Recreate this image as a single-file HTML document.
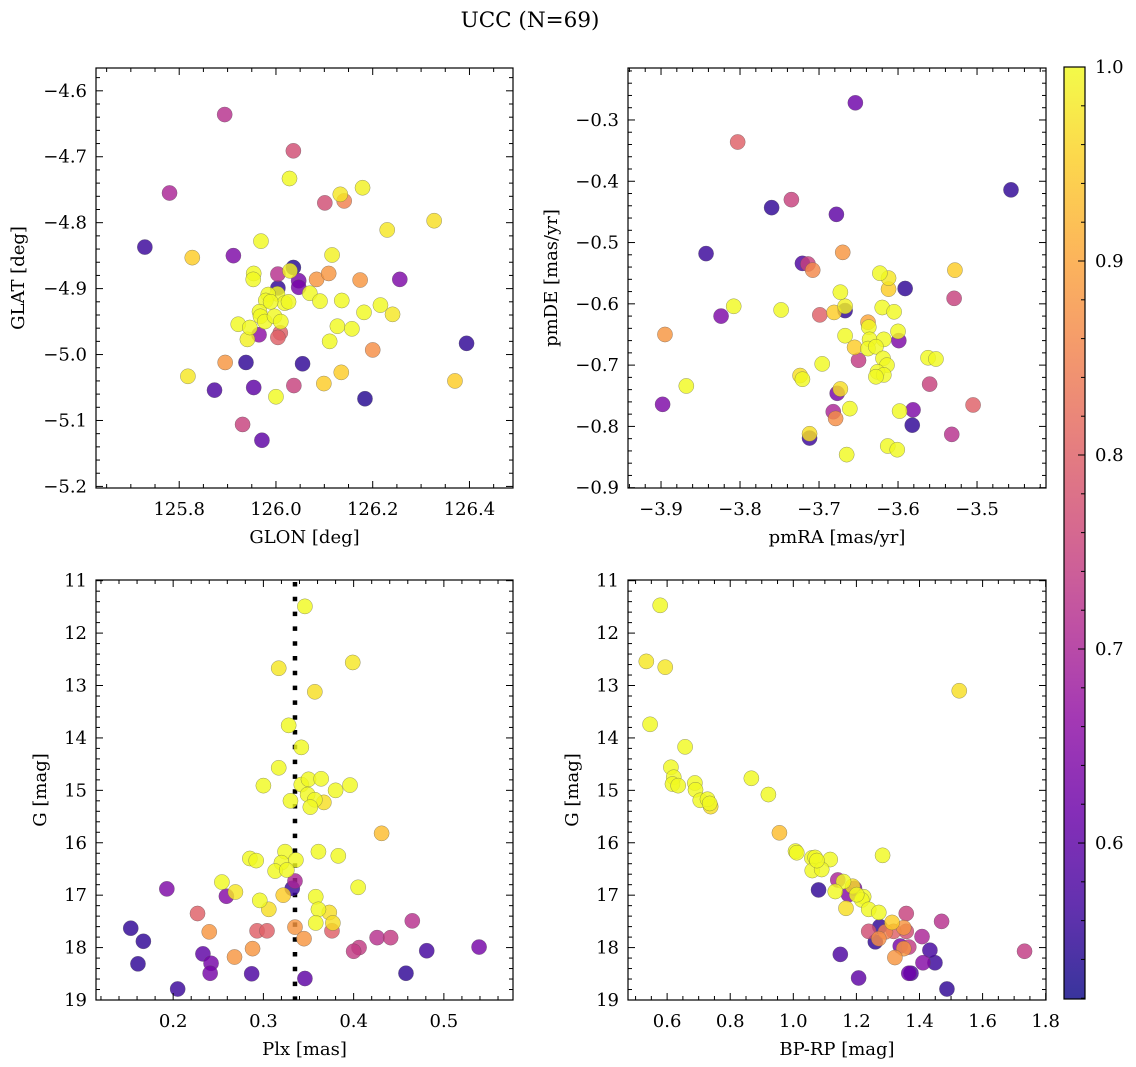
<!DOCTYPE html>
<html><head><meta charset="utf-8">
<style>
html,body{margin:0;padding:0;background:#fff;}
svg{display:block;font-family:"DejaVu Serif","Liberation Serif",serif;}
</style></head>
<body>
<svg id="fig" width="1136" height="1067" viewBox="0 0 1136 1067" xmlns="http://www.w3.org/2000/svg">
<text x="530" y="27" font-size="21.5" text-anchor="middle">UCC (N=69)</text>
</svg>
<script>
// ---- Panel 1: GLON vs GLAT ----
const p1GLON=[125.894,126.036,126.028,125.780,126.133,126.141,126.101,126.179,126.327,126.230,125.729,125.827,125.912,125.969,126.116,126.036,126.029,126.004,126.047,126.047,126.004,125.954,125.953,126.084,126.109,126.174,126.256,126.070,126.091,126.136,126.003,125.984,125.979,126.018,126.026,125.966,125.968,125.977,125.997,126.010,125.922,125.946,125.941,125.965,126.009,126.004,126.182,126.216,126.241,126.127,126.157,126.111,126.200,126.394,125.895,125.938,126.055,125.818,126.135,126.099,126.370,125.873,125.954,126.037,126.000,126.184,125.931,125.971,125.989];
const p1GLAT=[-4.636,-4.691,-4.733,-4.755,-4.757,-4.767,-4.770,-4.747,-4.797,-4.811,-4.837,-4.853,-4.850,-4.828,-4.849,-4.868,-4.873,-4.878,-4.888,-4.898,-4.899,-4.877,-4.886,-4.886,-4.877,-4.887,-4.886,-4.907,-4.919,-4.918,-4.908,-4.909,-4.918,-4.922,-4.920,-4.935,-4.942,-4.950,-4.942,-4.950,-4.954,-4.959,-4.977,-4.970,-4.967,-4.974,-4.936,-4.925,-4.939,-4.957,-4.961,-4.980,-4.993,-4.983,-5.012,-5.012,-5.014,-5.033,-5.027,-5.044,-5.040,-5.054,-5.050,-5.047,-5.064,-5.067,-5.106,-5.130,-4.920];
const p1Prob=[0.72,0.77,1.0,0.70,0.98,0.85,0.77,0.99,0.97,0.98,0.56,0.95,0.64,1.0,0.99,0.54,0.99,0.72,0.63,0.63,0.55,1.0,1.0,0.88,0.88,0.88,0.64,1.0,1.0,1.0,1.0,1.0,1.0,1.0,1.0,1.0,1.0,1.0,1.0,1.0,1.0,1.0,0.99,0.66,0.80,0.80,1.0,1.0,0.98,1.0,1.0,1.0,0.87,0.55,0.88,0.55,0.55,0.98,0.95,0.95,0.95,0.58,0.60,0.75,1.0,0.54,0.75,0.60,1.0];
// ---- Panel 2: pmRA vs pmDE ----
const p2PmRA=[-3.654,-3.803,-3.457,-3.735,-3.760,-3.678,-3.843,-3.670,-3.721,-3.714,-3.708,-3.623,-3.612,-3.528,-3.612,-3.591,-3.673,-3.529,-3.808,-3.824,-3.748,-3.667,-3.667,-3.681,-3.699,-3.620,-3.605,-3.895,-3.638,-3.637,-3.667,-3.636,-3.600,-3.599,-3.618,-3.655,-3.638,-3.628,-3.650,-3.562,-3.552,-3.619,-3.614,-3.626,-3.618,-3.628,-3.696,-3.724,-3.721,-3.868,-3.560,-3.673,-3.677,-3.898,-3.505,-3.661,-3.682,-3.679,-3.598,-3.581,-3.582,-3.712,-3.712,-3.532,-3.613,-3.601,-3.665];
const p2PmDE=[-0.272,-0.336,-0.414,-0.430,-0.443,-0.454,-0.518,-0.516,-0.534,-0.535,-0.545,-0.550,-0.558,-0.545,-0.576,-0.575,-0.581,-0.591,-0.604,-0.620,-0.610,-0.611,-0.604,-0.614,-0.618,-0.606,-0.613,-0.650,-0.630,-0.638,-0.652,-0.658,-0.645,-0.660,-0.658,-0.671,-0.673,-0.670,-0.692,-0.688,-0.690,-0.689,-0.700,-0.711,-0.716,-0.719,-0.698,-0.717,-0.723,-0.734,-0.731,-0.739,-0.746,-0.764,-0.765,-0.771,-0.776,-0.787,-0.775,-0.773,-0.798,-0.819,-0.812,-0.813,-0.832,-0.838,-0.846];
const p2Prob=[0.62,0.80,0.55,0.75,0.55,0.60,0.56,0.88,0.58,0.75,0.86,1.0,0.98,0.95,0.95,0.55,1.0,0.75,1.0,0.64,1.0,0.55,0.99,0.95,0.80,1.0,1.0,0.88,0.90,1.0,1.0,1.0,1.0,0.64,1.0,0.95,1.0,1.0,0.74,1.0,1.0,1.0,1.0,1.0,1.0,1.0,1.0,0.97,1.0,1.0,0.75,0.97,0.63,0.64,0.80,1.0,0.70,0.87,1.0,0.64,0.55,0.56,0.97,0.72,1.0,1.0,1.0];
// ---- Panel 3: Plx vs G ----
const p3Plx=[0.346,0.399,0.317,0.357,0.328,0.342,0.317,0.300,0.342,0.350,0.364,0.396,0.380,0.330,0.349,0.357,0.367,0.352,0.431,0.324,0.361,0.383,0.285,0.292,0.336,0.320,0.313,0.326,0.335,0.332,0.254,0.405,0.193,0.269,0.259,0.322,0.358,0.296,0.306,0.361,0.373,0.227,0.465,0.358,0.377,0.335,0.153,0.240,0.293,0.304,0.376,0.426,0.441,0.345,0.167,0.288,0.406,0.400,0.539,0.481,0.233,0.268,0.242,0.161,0.241,0.287,0.458,0.346,0.205];
const p3G=[11.49,12.56,12.67,13.12,13.76,14.18,14.57,14.91,14.89,14.79,14.78,14.90,15.00,15.20,15.08,15.18,15.23,15.32,15.82,16.17,16.17,16.25,16.30,16.34,16.33,16.38,16.54,16.52,16.73,16.87,16.75,16.85,16.88,16.94,17.02,17.00,17.03,17.10,17.27,17.27,17.33,17.35,17.49,17.53,17.53,17.61,17.63,17.70,17.68,17.68,17.68,17.81,17.81,17.83,17.88,18.02,18.00,18.07,17.99,18.06,18.12,18.18,18.30,18.31,18.49,18.50,18.49,18.59,18.79];
const p3Prob=[1.0,0.98,0.98,0.97,1.0,1.0,1.0,1.0,1.0,1.0,1.0,1.0,1.0,1.0,1.0,1.0,0.97,1.0,0.93,1.0,1.0,1.0,1.0,1.0,1.0,1.0,1.0,1.0,0.70,0.56,1.0,1.0,0.64,0.98,0.65,0.95,1.0,1.0,0.97,1.0,0.97,0.80,0.72,1.0,0.97,0.88,0.55,0.88,0.80,0.80,0.80,0.72,0.74,0.88,0.55,0.88,0.74,0.74,0.63,0.57,0.60,0.88,0.63,0.55,0.63,0.58,0.55,0.60,0.56];
const p3PlxMedian=[0.335];
// ---- Panel 4: BP-RP vs G ----
const p4BPRP=[0.578,0.534,0.594,1.526,0.546,0.657,0.612,0.621,0.617,0.635,0.688,0.690,0.705,0.728,0.735,0.738,0.867,0.921,0.956,1.007,1.011,1.059,1.069,1.117,1.283,1.060,1.090,1.080,1.141,1.159,1.133,1.188,1.194,1.175,1.223,1.217,1.167,1.239,1.271,1.358,1.313,1.470,1.274,1.239,1.292,1.318,1.350,1.358,1.271,1.260,1.408,1.339,1.366,1.350,1.433,1.733,1.149,1.322,1.411,1.449,1.366,1.373,1.207,1.487,1.075,1.201];
const p4G=[11.47,12.54,12.65,13.10,13.74,14.17,14.56,14.75,14.88,14.91,14.86,14.99,15.19,15.17,15.25,15.31,14.77,15.08,15.81,16.16,16.19,16.29,16.28,16.32,16.24,16.53,16.51,16.90,16.71,16.74,16.93,16.83,16.87,16.99,17.03,17.09,17.25,17.27,17.33,17.35,17.52,17.50,17.60,17.69,17.70,17.69,17.62,17.69,17.83,17.89,17.79,17.97,17.99,18.02,18.05,18.07,18.13,18.19,18.29,18.29,18.49,18.49,18.58,18.79,16.34,16.99];
const p4Prob=[1.0,0.98,0.98,0.97,1.0,1.0,1.0,1.0,1.0,1.0,1.0,1.0,1.0,1.0,1.0,0.97,1.0,1.0,0.93,1.0,1.0,1.0,1.0,1.0,1.0,1.0,1.0,0.55,0.70,1.0,1.0,0.97,0.64,0.65,1.0,1.0,0.97,1.0,1.0,0.75,0.95,0.72,0.55,0.77,0.85,0.80,0.88,0.77,0.87,0.55,0.70,0.63,0.74,0.88,0.57,0.74,0.58,0.88,0.65,0.56,0.62,0.58,0.60,0.55,1.0,1.0];
// ---- Colorbar ----
const cbTicks=[0.6,0.7,0.8,0.9,1.0];
const cbRange=[0.5196,1.0];

const NS="http://www.w3.org/2000/svg";
const svg=document.getElementById('fig');
const FS=18;
function mk(tag,attrs,parent){const e=document.createElementNS(NS,tag);for(const k in attrs)e.setAttribute(k,attrs[k]);(parent||svg).appendChild(e);return e;}
const plasma=["#0d0887","#41049d","#6a00a8","#8f0da4","#b12a90","#cc4778","#e16462","#f2844b","#fca636","#fcce25","#f0f921"];
function hex(h){return [parseInt(h.substr(1,2),16),parseInt(h.substr(3,2),16),parseInt(h.substr(5,2),16)];}
function cmap(v){let t=(v-cbRange[0])/(cbRange[1]-cbRange[0]);t=Math.max(0,Math.min(1,t));const s=t*10;const i=Math.min(9,Math.floor(s));const f=s-i;const a=hex(plasma[i]),b=hex(plasma[i+1]);return 'rgb('+a.map((c,k)=>Math.round(c+(b[k]-c)*f)).join(',')+')';}
function fmt(v,d){let s=v.toFixed(d);if(v<0)s='\u2212'+s.substr(1);return s;}

function panel(cfg){
  const {name,px0,px1,py0,py1,xr,yr,invertY}=cfg;
  const sx=v=>px0+(v-xr[0])/(xr[1]-xr[0])*(px1-px0);
  const sy=invertY?(v=>py0+(v-yr[0])/(yr[1]-yr[0])*(py1-py0)):(v=>py1-(v-yr[0])/(yr[1]-yr[0])*(py1-py0));
  const g=mk('g',{});
  
  
  const clipId='clip-'+name;
  const cp=mk('clipPath',{id:clipId},g);mk('rect',{x:px0,y:py0,width:px1-px0,height:py1-py0},cp);
  const marks=mk('g',{'clip-path':'url(#'+clipId+')'},g);
  
  
  if(cfg.vline){cfg.vline.forEach(v=>{const l=mk('line',{x1:sx(v),x2:sx(v),y1:py0+2,y2:py1,stroke:'#000','stroke-width':4.5,'stroke-dasharray':'4.5 10.3'},marks);
    
    });}
  const idx=cfg.x.map((_,i)=>i).sort((a,b)=>cfg.p[a]-cfg.p[b]);
  idx.forEach(i=>{const c=mk('circle',{cx:sx(cfg.x[i]),cy:sy(cfg.y[i]),r:7.6,fill:cmap(cfg.p[i]),'fill-opacity':0.82,stroke:'#555','stroke-opacity':0.6,'stroke-width':0.5},marks);
    
    });
  const tg=mk('g',{stroke:'#000','stroke-width':1},g);
  const eps=1e-9;
  for(let v=Math.ceil(xr[0]/cfg.xmin-eps)*cfg.xmin; v<=xr[1]+eps; v+=cfg.xmin){
    const X=sx(v);const major=Math.abs(v/cfg.xmaj-Math.round(v/cfg.xmaj))<1e-6;const L=major?7:4;
    mk('line',{x1:X,x2:X,y1:py1,y2:py1-L},tg);mk('line',{x1:X,x2:X,y1:py0,y2:py0+L},tg);
    if(major){const t=mk('text',{x:X,y:py1+27,'font-size':FS,'text-anchor':'middle',stroke:'none',fill:'#000'},g);t.textContent=fmt(Math.round(v/cfg.xmaj)*cfg.xmaj,cfg.xd);
      
      }
  }
  const ylo=Math.min(yr[0],yr[1]),yhi=Math.max(yr[0],yr[1]);
  for(let v=Math.ceil(ylo/cfg.ymin-eps)*cfg.ymin; v<=yhi+eps; v+=cfg.ymin){
    const Y=sy(v);const major=Math.abs(v/cfg.ymaj-Math.round(v/cfg.ymaj))<1e-6;const L=major?7:4;
    mk('line',{x1:px0,x2:px0+L,y1:Y,y2:Y},tg);mk('line',{x1:px1,x2:px1-L,y1:Y,y2:Y},tg);
    if(major){const t=mk('text',{x:px0-9,y:Y+6,'font-size':FS,'text-anchor':'end',stroke:'none',fill:'#000'},g);t.textContent=fmt(Math.round(v/cfg.ymaj)*cfg.ymaj,cfg.yd);
      
      }
  }
  const fr=mk('rect',{x:px0,y:py0,width:px1-px0,height:py1-py0,fill:'none',stroke:'#000','stroke-width':1.2},g);
  
  
  const xl=mk('text',{x:(px0+px1)/2,y:py1+55,'font-size':FS,'text-anchor':'middle'},g);xl.textContent=cfg.xlabel;
  
  
  const yx=cfg.ylx,yy=(py0+py1)/2;
  const yl=mk('text',{x:yx,y:yy,'font-size':FS,'text-anchor':'middle',transform:'rotate(-90 '+yx+' '+yy+')'},g);yl.textContent=cfg.ylabel;
  
  
}

panel({name:'glon-glat-panel',px0:96,px1:513,py0:68,py1:488,xr:[125.628,126.490],yr:[-5.2024,-4.5654],x:p1GLON,y:p1GLAT,p:p1Prob,xmaj:0.2,xmin:0.05,xd:1,ymaj:0.1,ymin:0.02,yd:1,xlabel:'GLON [deg]',ylabel:'GLAT [deg]',ylx:24});
panel({name:'pmra-pmde-panel',px0:628,px1:1046,py0:68,py1:488,xr:[-3.9418,-3.4127],yr:[-0.9005,-0.2152],x:p2PmRA,y:p2PmDE,p:p2Prob,xmaj:0.1,xmin:0.02,xd:1,ymaj:0.1,ymin:0.02,yd:1,xlabel:'pmRA [mas/yr]',ylabel:'pmDE [mas/yr]',ylx:557});
panel({name:'plx-g-panel',px0:96,px1:513,py0:580,py1:1000,xr:[0.1145,0.5766],yr:[10.987,19.0],invertY:true,x:p3Plx,y:p3G,p:p3Prob,vline:p3PlxMedian,xmaj:0.1,xmin:0.02,xd:1,ymaj:1,ymin:0.2,yd:0,xlabel:'Plx [mas]',ylabel:'G [mag]',ylx:46});
panel({name:'bprp-g-panel',px0:628,px1:1046,py0:580,py1:1000,xr:[0.476,1.801],yr:[10.987,19.0],invertY:true,x:p4BPRP,y:p4G,p:p4Prob,xmaj:0.2,xmin:0.05,xd:1,ymaj:1,ymin:0.2,yd:0,xlabel:'BP-RP [mag]',ylabel:'G [mag]',ylx:578});

(function(){
  const x0=1064,x1=1085,y0=67,y1=999;
  const cg=mk('g',{});
  
  
  const defs=mk('defs',{},cg);
  const lg=mk('linearGradient',{id:'cbgrad',x1:0,y1:1,x2:0,y2:0},defs);
  for(let k=0;k<=20;k++){const v=cbRange[0]+(cbRange[1]-cbRange[0])*k/20;mk('stop',{offset:(k/20),'stop-color':cmap(v),'stop-opacity':0.82},lg);}
  mk('rect',{x:x0,y:y0,width:x1-x0,height:y1-y0,fill:'url(#cbgrad)',stroke:'#000','stroke-width':1.2},cg);
  const sy=v=>y1-(v-cbRange[0])/(cbRange[1]-cbRange[0])*(y1-y0);
  for(let v=0.52;v<=1.0001;v+=0.02){const Y=sy(v);const major=Math.abs(v*10-Math.round(v*10))<1e-6;
    mk('line',{x1:x1,x2:x1-(major?7:4),y1:Y,y2:Y,stroke:'#000','stroke-width':1},cg);}
  cbTicks.forEach(v=>{const t=mk('text',{x:x1+10,y:sy(v)+6,'font-size':FS},cg);t.textContent=v.toFixed(1);
    
    });
})();
</script>
</body></html>
